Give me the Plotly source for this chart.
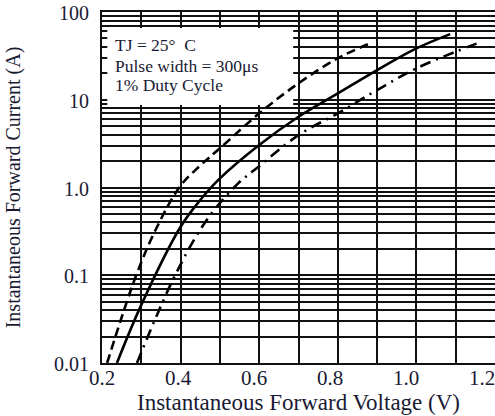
import plotly.graph_objects as go

# ---- data ----
typ_v = [0.238, 0.3, 0.4, 0.45, 0.5, 0.6, 0.7, 0.8, 0.9, 1.0, 1.086]
typ_i = [0.01, 0.046, 0.357, 0.72, 1.27, 3.05, 6.4, 11.8, 21.8, 38.5, 56]

hi_v = [0.213, 0.287, 0.34, 0.4, 0.45, 0.5, 0.6, 0.7, 0.8, 0.882]
hi_i = [0.01, 0.1, 0.355, 1.05, 1.78, 2.8, 7.0, 15.4, 29.7, 44]

lo_v = [0.289, 0.386, 0.467, 0.547, 0.6, 0.7, 0.8, 0.9, 1.0, 1.1, 1.166]
lo_i = [0.01, 0.1, 0.43, 1.12, 1.75, 3.96, 7.0, 12.9, 22.8, 35.3, 45.9]

x_ticks = [0.2, 0.4, 0.6, 0.8, 1.0, 1.2]
x_ticktext = ["0.2", "0.4", "0.6", "0.8", "1.0", "1.2"]
y_ticks = [0.01, 0.1, 1, 10, 100]
y_ticktext = ["0.01", "0.1", "1.0", "10", "100"]
y_minor = [m * d for d in [0.01, 0.1, 1, 10] for m in range(2, 10)]

legend_lines = ["TJ = 25°  C", "Pulse width = 300μs", "1% Duty Cycle"]

FONT = "Liberation Serif"
TXT = "#1a1a33"
GRID = "#111111"

fig = go.Figure()
fig.add_trace(go.Scatter(x=hi_v, y=hi_i, mode="lines", line=dict(color="black", width=2.6, dash="9px,5px", shape="spline"), showlegend=False))
fig.add_trace(go.Scatter(x=typ_v, y=typ_i, mode="lines", line=dict(color="black", width=2.6, shape="spline"), showlegend=False))
fig.add_trace(go.Scatter(x=lo_v, y=lo_i, mode="lines", line=dict(color="black", width=2.6, dash="11px,6px,2px,6px", shape="spline"), showlegend=False))
# invisible companion so that the labelled voltage axis is drawn
fig.add_trace(go.Scatter(x=typ_v, y=typ_i, xaxis="x2", mode="lines", opacity=0, hoverinfo="skip", showlegend=False))

fig.update_layout(
    width=495, height=416,
    margin=dict(l=102, r=0, t=12, b=53),
    paper_bgcolor="white", plot_bgcolor="white",
    font=dict(family=FONT, color=TXT),
    xaxis=dict(
        range=[0.2, 1.2], dtick=0.1, tick0=0.2, showticklabels=False,
        showgrid=True, gridcolor=GRID, gridwidth=1.6, zeroline=False,
        showline=True, linecolor=GRID, linewidth=2, mirror=True, automargin=False,
    ),
    xaxis2=dict(
        overlaying="x", anchor="y", side="bottom",
        range=[0.1995, 1.2337], tickvals=x_ticks, ticktext=x_ticktext,
        showgrid=False, zeroline=False, showline=False, ticks="",
        ticklabeloverflow="allow",
        tickfont=dict(family=FONT, size=21, color=TXT), automargin=False,
        title=dict(text="Instantaneous Forward Voltage (V)", font=dict(family=FONT, size=23, color=TXT), standoff=3),
    ),
    yaxis=dict(
        type="log", range=[-2, 2], tickvals=y_ticks, ticktext=y_ticktext,
        showgrid=True, gridcolor=GRID, gridwidth=1.6, zeroline=False,
        showline=True, linecolor=GRID, linewidth=2, mirror=True,
        ticks="", ticklabelstandoff=7, ticklabelshift=1, ticklabeloverflow="allow",
        tickfont=dict(family=FONT, size=20, color=TXT), automargin=False,
        minor=dict(tickvals=y_minor, showgrid=True, gridcolor=GRID, gridwidth=1.6, ticks=""),
        title=dict(text="Instantaneous Forward Current (A)", font=dict(family=FONT, size=20, color=TXT), standoff=28),
    ),
)

# white legend panel that hides the grid (drawn between grid and curves)
fig.add_shape(type="rect", xref="x", yref="y", x0=0.2135, x1=0.6864, y0=8.7, y1=65.8,
              fillcolor="white", line=dict(width=0), layer="between")

for txt, yy in zip(legend_lines, [0.906, 0.847, 0.793]):
    fig.add_annotation(text=txt, xref="paper", yref="paper", x=0.028, y=yy, xanchor="left", yanchor="middle",
                       showarrow=False, font=dict(family=FONT, size=17.5, color=TXT))

fig.write_html("out.html", config={"displayModeBar": False},
               post_script="document.body.style.margin='0';")
